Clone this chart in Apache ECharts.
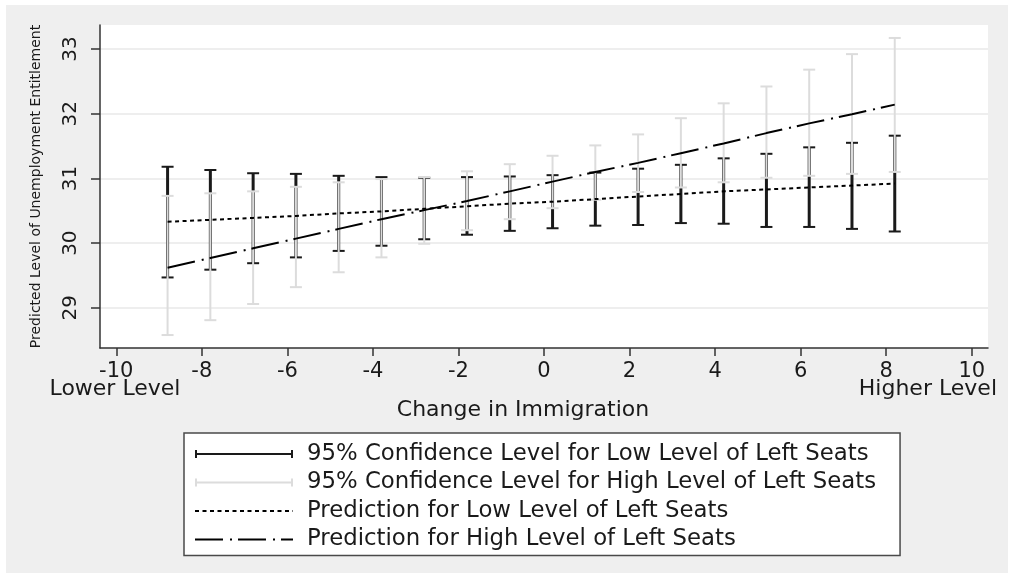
<!DOCTYPE html>
<html>
<head>
<meta charset="utf-8">
<title>Predicted Level of Unemployment Entitlement</title>
<script src="https://cdn.jsdelivr.net/npm/echarts@6/dist/echarts.min.js"></script>
<style>
  html, body { margin: 0; padding: 0; background: #ffffff; }
  #chart { width: 1013px; height: 578px; }
</style>
</head>
<body>
<div id="chart"></div>
<script>
// Change in immigration at which the predictions are evaluated
const immigration = [-8.8, -7.8, -6.8, -5.8, -4.8, -3.8, -2.8, -1.8, -0.8, 0.2, 1.2, 2.2, 3.2, 4.2, 5.2, 6.2, 7.2, 8.2];

// 95% confidence bounds, low level of left seats
const lowCiLower = [29.47, 29.59, 29.69, 29.78, 29.88, 29.96, 30.06, 30.13, 30.19, 30.23, 30.27, 30.28, 30.31, 30.30, 30.25, 30.25, 30.22, 30.18];
const lowCiUpper = [31.18, 31.13, 31.08, 31.07, 31.04, 31.02, 31.01, 31.02, 31.03, 31.05, 31.09, 31.15, 31.21, 31.31, 31.38, 31.48, 31.55, 31.66];

// 95% confidence bounds, high level of left seats
const highCiLower = [28.58, 28.81, 29.06, 29.32, 29.55, 29.78, 29.99, 30.20, 30.37, 30.54, 30.67, 30.79, 30.86, 30.94, 31.01, 31.04, 31.07, 31.10];
const highCiUpper = [30.73, 30.77, 30.80, 30.87, 30.94, 30.99, 31.02, 31.11, 31.22, 31.35, 31.51, 31.68, 31.93, 32.16, 32.42, 32.68, 32.92, 33.17];

// Point predictions
const lowPred = [30.33, 30.36, 30.39, 30.42, 30.46, 30.49, 30.53, 30.57, 30.61, 30.64, 30.68, 30.72, 30.76, 30.80, 30.83, 30.86, 30.89, 30.92];
const highPred = [29.62, 29.77, 29.92, 30.07, 30.22, 30.37, 30.51, 30.65, 30.80, 30.95, 31.10, 31.24, 31.39, 31.54, 31.70, 31.85, 31.99, 32.14];

// Axis ticks
const xTicks = [-10, -8, -6, -4, -2, 0, 2, 4, 6, 8, 10];
const yTicks = [29, 30, 31, 32, 33];

const seriesNames = [
  '95% Confidence Level for Low Level of Left Seats',
  '95% Confidence Level for High Level of Left Seats',
  'Prediction for Low Level of Left Seats',
  'Prediction for High Level of Left Seats'
];

const FONT = 'DejaVu Sans';
const INK = '#1a1a1a';

// capped vertical range bar
function rangeBar(color, stemWidth) {
  return function (params, api) {
    const x = api.value(0);
    const lo = api.coord([x, api.value(1)]);
    const hi = api.coord([x, api.value(2)]);
    const half = 6;
    return {
      type: 'group',
      children: [
        { type: 'line', shape: { x1: lo[0], y1: lo[1], x2: hi[0], y2: hi[1] },
          style: { stroke: color, lineWidth: stemWidth } },
        { type: 'line', shape: { x1: lo[0] - half, y1: lo[1], x2: lo[0] + half, y2: lo[1] },
          style: { stroke: color, lineWidth: 2 } },
        { type: 'line', shape: { x1: hi[0] - half, y1: hi[1], x2: hi[0] + half, y2: hi[1] },
          style: { stroke: color, lineWidth: 2 } }
      ]
    };
  };
}

const zip2 = (xs, ys) => xs.map((x, i) => [x, ys[i]]);
const zip3 = (xs, a, b) => xs.map((x, i) => [x, a[i], b[i]]);

// capped bar legend glyph (filled strokes)
const capIcon = 'path://M0,0h2v8h-2z M0,3h98v2h-98z M96,0h2v8h-2z';

const chart = echarts.init(document.getElementById('chart'), null, { renderer: 'canvas' });

chart.setOption({
  animation: false,
  backgroundColor: '#ffffff',
  graphic: [
    { type: 'rect', z: -10, shape: { x: 6, y: 5, width: 1002, height: 568 },
      style: { fill: '#efefef' }, silent: true },
    { type: 'text', x: 115, y: 389,
      style: { text: 'Lower Level', align: 'center', verticalAlign: 'middle',
               fontSize: 22, fontFamily: FONT, fill: INK } },
    { type: 'text', x: 997, y: 389,
      style: { text: 'Higher Level', align: 'right', verticalAlign: 'middle',
               fontSize: 22, fontFamily: FONT, fill: INK } },
    { type: 'text', x: 523, y: 410,
      style: { text: 'Change in Immigration', align: 'center', verticalAlign: 'middle',
               fontSize: 22, fontFamily: FONT, fill: INK } }
  ],
  grid: {
    left: 100, right: 25, top: 25, bottom: 230,
    show: true, backgroundColor: '#ffffff', borderWidth: 0,
    containLabel: false, outerBoundsMode: 'none'
  },
  legend: {
    orient: 'vertical',
    left: 184, top: 433,
    backgroundColor: '#ffffff',
    borderColor: '#4a4a4a', borderWidth: 1.5, borderRadius: 0,
    padding: [9, 24, 4, 10],
    itemWidth: 98, itemHeight: 14, itemGap: 4.5,
    symbolKeepAspect: true,
    selectedMode: false,
    textStyle: { fontSize: 22.8, fontFamily: FONT, color: INK, lineHeight: 24, padding: [0, 0, 0, 9] },
    data: [
      { name: seriesNames[0], icon: capIcon },
      { name: seriesNames[1], icon: capIcon },
      { name: seriesNames[2], itemStyle: { opacity: 0 } },
      { name: seriesNames[3], itemStyle: { opacity: 0 } }
    ]
  },
  xAxis: {
    type: 'value',
    min: -10.38, max: 10.38,
    axisLine: { show: true, onZero: false, lineStyle: { color: '#333', width: 1.5 } },
    axisTick: { show: true, length: 8, customValues: xTicks, lineStyle: { color: '#333', width: 1.5 } },
    axisLabel: { customValues: xTicks, fontSize: 21, fontFamily: FONT, color: INK, margin: 13 },
    splitLine: { show: false }
  },
  yAxis: {
    type: 'value',
    min: 28.38, max: 33.37,
    name: 'Predicted Level of Unemployment Entitlement',
    nameLocation: 'middle', nameRotate: 90, nameGap: 57,
    nameTextStyle: { fontSize: 14, fontFamily: FONT, color: INK },
    axisLine: { show: true, onZero: false, lineStyle: { color: '#333', width: 1.5 } },
    axisTick: { show: true, length: 9, customValues: yTicks, lineStyle: { color: '#333', width: 1.5 } },
    axisLabel: { customValues: yTicks, rotate: 90, fontSize: 20, fontFamily: FONT, color: INK, margin: 19 },
    splitLine: { show: true, lineStyle: { color: '#e8e8e8', width: 1.5 } }
  },
  series: [
    {
      name: seriesNames[0], type: 'custom', z: 2,
      itemStyle: { color: '#1a1a1a' },
      encode: { x: 0, y: [1, 2] },
      renderItem: rangeBar('#1a1a1a', 3),
      data: zip3(immigration, lowCiLower, lowCiUpper)
    },
    {
      name: seriesNames[1], type: 'custom', z: 3,
      itemStyle: { color: '#dcdcdc' },
      encode: { x: 0, y: [1, 2] },
      renderItem: rangeBar('#dcdcdc', 2),
      data: zip3(immigration, highCiLower, highCiUpper)
    },
    {
      name: seriesNames[2], type: 'line', z: 4,
      symbol: 'none', showSymbol: false,
      itemStyle: { color: '#000' },
      lineStyle: { color: '#000', width: 2, type: [4, 3.5] },
      data: zip2(immigration, lowPred)
    },
    {
      name: seriesNames[3], type: 'line', z: 4,
      symbol: 'none', showSymbol: false,
      itemStyle: { color: '#000' },
      lineStyle: { color: '#000', width: 2, type: [28, 7, 2, 6] },
      data: zip2(immigration, highPred)
    }
  ]
});
</script>
</body>
</html>
